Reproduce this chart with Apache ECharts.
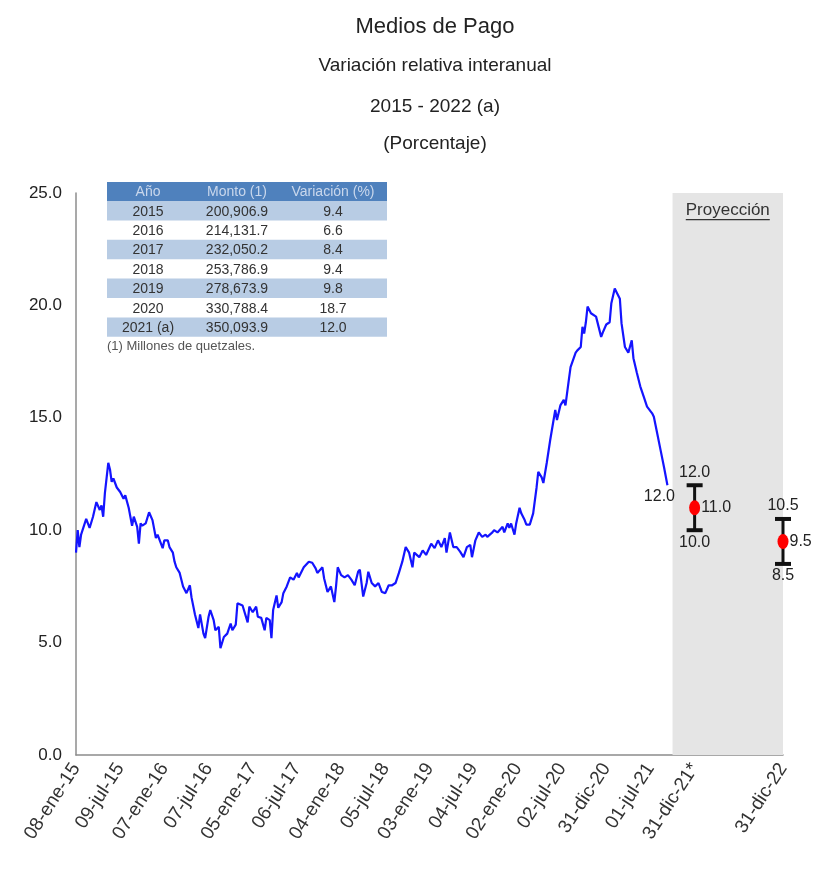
<html lang="es">

<head>
	<meta charset="utf-8">
	<title>Medios de Pago</title>
	<script src="https://cdn.jsdelivr.net/npm/echarts@6/dist/echarts.min.js"></script>
	<style>
		body { margin: 0; background: #fff; }
		#grafica { width: 820px; height: 888px; }
	</style>
</head>

<body>
	<div id="grafica"></div>
	<script>
		// semana 0 = 08-ene-15, datos semanales
		var semanas = [0, 1, 2, 3, 6, 8, 10, 12, 14, 15, 16, 17, 19, 20, 21, 22, 24, 26, 28, 29,
			31, 33, 34, 36, 37, 38, 39, 41, 43, 45, 47, 48, 51, 52, 54, 55, 57, 58, 59, 61,
			63, 65, 67, 68, 70, 72, 73, 75, 76, 78, 79, 81, 82, 84, 85, 87, 89, 91, 92, 94,
			95, 98, 99, 101, 102, 104, 106, 107, 109, 111, 112, 114, 115, 116, 118, 119, 121, 122, 124, 126,
			128, 130, 131, 134, 135, 137, 139, 141, 142, 145, 146, 148, 150, 152, 153, 154, 156, 158, 160, 162,
			164, 166, 167, 169, 171, 172, 174, 176, 178, 180, 182, 184, 186, 188, 190, 192, 194, 196, 198, 199,
			202, 204, 206, 209, 211, 213, 215, 217, 218, 220, 222, 224, 226, 228, 230, 232, 233, 235, 237, 239,
			241, 242, 245, 246, 248, 251, 252, 254, 255, 256, 258, 259, 261, 262, 264, 265, 267, 269, 271, 272,
			274, 275, 277, 279, 281, 282, 283, 285, 287, 288, 290, 291, 292, 294, 295, 297, 298, 299, 300, 301,
			303, 304, 306, 307, 309, 310, 312, 314, 315, 317, 318, 320, 321, 323, 325, 327, 328, 330, 332, 334,
			336, 339, 340, 342, 344, 346, 348];
		var variacion = [9.0, 10.0, 9.25, 9.8, 10.5, 10.1, 10.6, 11.25, 10.9, 11.1, 10.6, 11.65, 13.0, 12.7, 12.15, 12.3, 11.9, 11.7, 11.4, 11.55,
			11.0, 10.2, 10.6, 10.15, 9.4, 10.3, 10.2, 10.3, 10.8, 10.45, 9.65, 9.8, 9.2, 9.55, 9.55, 9.25, 9.0, 8.6, 8.35, 8.1,
			7.5, 7.2, 7.55, 7.0, 6.25, 5.65, 6.25, 5.4, 5.2, 6.15, 6.45, 6.0, 5.55, 5.7, 4.75, 5.25, 5.4, 5.85, 5.55, 5.8,
			6.75, 6.65, 6.6, 5.9, 6.6, 6.35, 6.6, 6.15, 6.1, 5.55, 6.1, 6.0, 5.2, 6.45, 7.1, 6.55, 6.8, 7.2, 7.5, 7.9,
			7.8, 8.1, 7.9, 8.35, 8.3, 8.6, 8.55, 8.3, 8.1, 8.35, 7.85, 7.25, 7.5, 6.8, 7.5, 8.35, 8.0, 7.9, 8.0, 7.8,
			7.55, 8.15, 8.25, 7.05, 7.65, 8.15, 7.65, 7.5, 7.65, 7.25, 7.2, 7.55, 7.55, 7.65, 8.1, 8.6, 9.25, 9.0, 8.35, 9.0,
			8.8, 9.1, 8.9, 9.4, 9.2, 9.55, 9.25, 9.65, 9.0, 9.9, 9.25, 9.25, 9.05, 8.8, 9.25, 9.35, 8.8, 9.55, 9.9, 9.7,
			9.8, 9.7, 9.9, 10.0, 9.9, 10.15, 9.9, 10.3, 10.1, 10.3, 9.8, 10.3, 11.0, 10.75, 10.45, 10.25, 10.25, 10.75, 11.9, 12.6,
			12.35, 12.1, 13.0, 14.0, 14.9, 15.35, 14.9, 15.55, 15.8, 15.55, 16.7, 17.25, 17.2, 17.9, 18.0, 18.15, 19.05, 18.75, 19.25, 19.95,
			19.65, 19.7, 19.5, 19.45, 18.6, 18.8, 19.15, 19.25, 20.1, 20.75, 20.6, 20.3, 19.2, 18.15, 17.9, 18.45, 17.65, 17.0, 16.4, 15.95,
			15.5, 15.2, 15.05, 14.3, 13.55, 12.8, 12.0];

		// etiquetas del eje x (cada 26 semanas, y el cierre de 2022)
		var semanasEtiqueta = [0, 26, 52, 78, 104, 130, 156, 182, 208, 234, 260, 286, 312, 338, 364, 416];
		var etiquetas = ['08-ene-15', '09-jul-15', '07-ene-16', '07-jul-16', '05-ene-17', '06-jul-17', '04-ene-18', '05-jul-18',
			'03-ene-19', '04-jul-19', '02-ene-20', '02-jul-20', '31-dic-20', '01-jul-21', '31-dic-21*', '31-dic-22'];

		// proyecciones
		var proySemana = [364, 416];
		var proyCentro = [11.0, 9.5];
		var proyMin = [10.0, 8.5];
		var proyMax = [12.0, 10.5];
		var inicioProyeccion = 351;
		var finEje = 416;

		// tabla
		var tablaAnio = ['2015', '2016', '2017', '2018', '2019', '2020', '2021 (a)'];
		var tablaMonto = ['200,906.9', '214,131.7', '232,050.2', '253,786.9', '278,673.9', '330,788.4', '350,093.9'];
		var tablaVar = ['9.4', '6.6', '8.4', '9.4', '9.8', '18.7', '12.0'];

		var fuente = "'Liberation Sans', Arial, sans-serif";

		var serieLinea = semanas.map(function (s, i) {
			var item = { value: [s, variacion[i]] };
			if (i == semanas.length - 1) {
				item.label = {
					show: true, position: 'bottom', distance: 3, offset: [-8, 0],
					formatter: function (p) { return p.value[1].toFixed(1); },
					fontFamily: fuente, fontSize: 16, color: '#222'
				};
			}
			return item;
		});

		// tabla dibujada con graphic
		var tX = 107, tY = 182, tW = 280, hH = 19, rH = 19.4;
		var colX = [148, 237, 333];
		var elems = [];
		elems.push({ type: 'rect', shape: { x: tX, y: tY, width: tW, height: hH }, style: { fill: '#4f81bd' } });
		['Año', 'Monto (1)', 'Variación (%)'].forEach(function (t, j) {
			elems.push({ type: 'text', x: colX[j], y: tY + hH / 2 + 1, style: { text: t, fill: '#c9d7ec', fontFamily: fuente, fontSize: 14, align: 'center', verticalAlign: 'middle' } });
		});
		for (var i = 0; i < tablaAnio.length; i++) {
			var y0 = tY + hH + i * rH;
			if (i % 2 == 0) {
				elems.push({ type: 'rect', shape: { x: tX, y: y0, width: tW, height: rH }, style: { fill: '#b8cce4' } });
			}
			[tablaAnio[i], tablaMonto[i], tablaVar[i]].forEach(function (t, j) {
				elems.push({ type: 'text', x: colX[j], y: y0 + rH / 2 + 1, style: { text: t, fill: '#333', fontFamily: fuente, fontSize: 14, align: 'center', verticalAlign: 'middle' } });
			});
		}
		elems.push({ type: 'text', x: tX, y: tY + hH + 7 * rH + 10, style: { text: '(1) Millones de quetzales.', fill: '#555', fontFamily: fuente, fontSize: 13, align: 'left', verticalAlign: 'middle' } });

		var tituloEstilo = { fontFamily: fuente, fontSize: 19, fontWeight: 'normal', color: '#222' };
		var chart = echarts.init(document.getElementById('grafica'), null, { renderer: 'canvas' });
		chart.setOption({
			backgroundColor: '#fff',
			animation: false,
			title: [
				{ text: 'Medios de Pago', left: 430, top: 11, textAlign: 'center', textStyle: { fontFamily: fuente, fontSize: 22, fontWeight: 'normal', color: '#222' } },
				{ text: 'Variación relativa interanual', left: 430, top: 51, textAlign: 'center', textStyle: tituloEstilo },
				{ text: '2015 - 2022 (a)', left: 430, top: 92, textAlign: 'center', textStyle: tituloEstilo },
				{ text: '(Porcentaje)', left: 430, top: 129, textAlign: 'center', textStyle: tituloEstilo }
			],
			grid: { left: 76, right: 37, top: 193, bottom: 133, outerBoundsMode: 'none' },
			xAxis: {
				type: 'value', min: 0, max: finEje, interval: 26,
				axisLine: { lineStyle: { color: '#8c8c8c', width: 1.5 } },
				axisTick: { show: false },
				splitLine: { show: false },
				axisLabel: {
					rotate: 57, margin: 10, fontFamily: fuente, fontSize: 19, color: '#333',
					showMinLabel: true, showMaxLabel: true,
					formatter: function (v) {
						var k = semanasEtiqueta.indexOf(v);
						return k >= 0 ? etiquetas[k] : '';
					}
				}
			},
			yAxis: {
				type: 'value', min: 0, max: 25, interval: 5,
				axisLine: { show: true, lineStyle: { color: '#8c8c8c', width: 1.5 } },
				axisTick: { show: false },
				splitLine: { show: false },
				axisLabel: {
					margin: 14, fontFamily: fuente, fontSize: 17, color: '#222',
					formatter: function (v) { return v.toFixed(1); }
				}
			},
			graphic: [{ type: 'group', children: elems }],
			series: [
				{
					name: 'Variación', type: 'line', data: serieLinea,
					showSymbol: true, symbol: 'circle', symbolSize: 0,
					lineStyle: { color: '#1414ff', width: 2.2 },
					markArea: {
						silent: true,
						itemStyle: { color: '#e5e5e5' },
						label: {
							show: true, position: 'insideTop', distance: 9,
							formatter: '{t|Proyección}\n{u|}',
							rich: {
								t: { fontFamily: fuente, fontSize: 17, color: '#333', align: 'center' },
								u: { width: 84, height: 1.2, backgroundColor: '#333', align: 'center' }
							}
						},
						data: [[{ xAxis: inicioProyeccion }, { xAxis: finEje }]]
					},
					z: 3
				},
				{
					name: 'Rango', type: 'custom',
					data: proySemana.map(function (s, i) { return [s, proyMin[i], proyMax[i]]; }),
					encode: { x: 0, y: [1, 2] },
					renderItem: function (params, api) {
						var s = api.value(0);
						var arriba = api.coord([s, api.value(2)]);
						var abajo = api.coord([s, api.value(1)]);
						var m = 8;
						var txt = { fontFamily: fuente, fontSize: 16, fill: '#222', align: 'center' };
						return {
							type: 'group', children: [
								{ type: 'line', shape: { x1: arriba[0], y1: arriba[1], x2: abajo[0], y2: abajo[1] }, style: { stroke: '#111', lineWidth: 3 } },
								{ type: 'line', shape: { x1: arriba[0] - m, y1: arriba[1], x2: arriba[0] + m, y2: arriba[1] }, style: { stroke: '#111', lineWidth: 4 } },
								{ type: 'line', shape: { x1: abajo[0] - m, y1: abajo[1], x2: abajo[0] + m, y2: abajo[1] }, style: { stroke: '#111', lineWidth: 4 } },
								{ type: 'text', x: arriba[0], y: arriba[1] - 5, style: Object.assign({ text: api.value(2).toFixed(1), verticalAlign: 'bottom' }, txt) },
								{ type: 'text', x: abajo[0], y: abajo[1] + 4, style: Object.assign({ text: api.value(1).toFixed(1), verticalAlign: 'top' }, txt) }
							]
						};
					},
					z: 4
				},
				{
					name: 'Proyección', type: 'scatter',
					data: proySemana.map(function (s, i) { return [s, proyCentro[i]]; }),
					symbol: 'circle', symbolSize: [11, 15],
					itemStyle: { color: '#ff0000', opacity: 1 },
					label: {
						show: true, position: 'right', distance: 1,
						formatter: function (p) { return p.value[1].toFixed(1); },
						fontFamily: fuente, fontSize: 16, color: '#222'
					},
					z: 5
				}
			]
		});
	</script>
</body>

</html>
